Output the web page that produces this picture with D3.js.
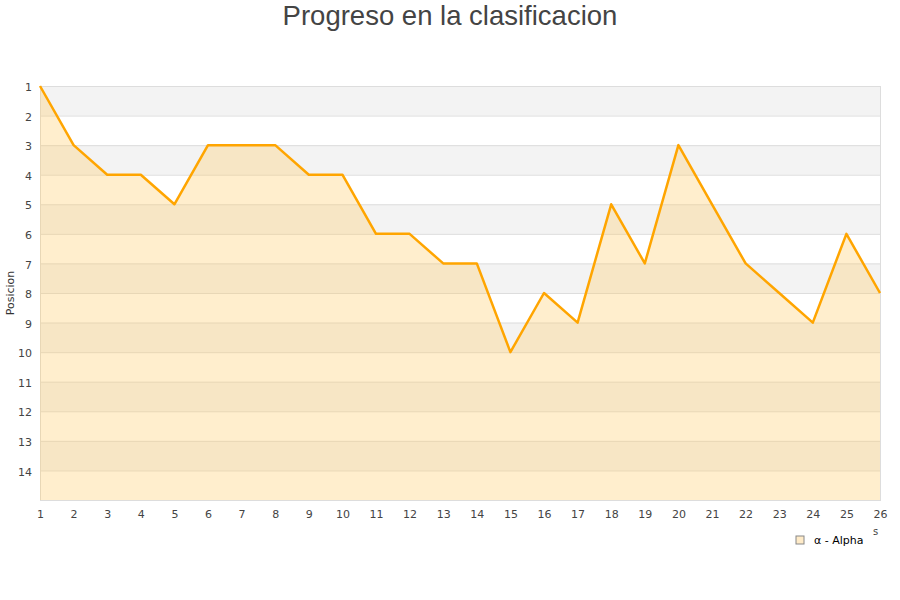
<!DOCTYPE html>
<html>
<head>
<meta charset="utf-8">
<script src="https://cdn.jsdelivr.net/npm/d3@7"></script>
<style>
  body { margin: 0; background: #fff; }
  text { font-family: "DejaVu Sans", sans-serif; }
</style>
</head>
<body>
<script>
const jornadas = d3.range(1, 27);
const posiciones = [1, 3, 4, 4, 5, 3, 3, 3, 4, 4, 6, 6, 7, 7, 10, 8, 9, 5, 7, 3, 5, 7, 8, 9, 6, 8];
const yTicks = d3.range(1, 15);
const seriesName = "α - Alpha";

const width = 900, height = 600;
const plotLeft = 40, plotRight = 880, plotTop = 86, plotBottom = 500;

const svg = d3.select("body")
  .append("svg")
  .attr("width", width)
  .attr("height", height);

const x = d3.scaleLinear().domain([1, 26]).range([plotLeft, plotRight]);
const y = d3.scaleLinear().domain([1, 15]).range([plotTop, plotBottom]);

// alternating bands
svg.append("g")
  .selectAll("rect")
  .data(d3.range(1, 15, 2))
  .join("rect")
  .attr("x", plotLeft)
  .attr("y", d => y(d))
  .attr("width", plotRight - plotLeft)
  .attr("height", d => y(d + 1) - y(d))
  .attr("fill", "#f3f3f3");

// grid lines
svg.append("g")
  .selectAll("line")
  .data(yTicks)
  .join("line")
  .attr("x1", plotLeft)
  .attr("x2", plotRight)
  .attr("y1", d => y(d) + 0.5)
  .attr("y2", d => y(d) + 0.5)
  .attr("stroke", "#dddddd");

// plot frame
svg.append("rect")
  .attr("x", plotLeft + 0.5)
  .attr("y", plotTop + 0.5)
  .attr("width", plotRight - plotLeft)
  .attr("height", plotBottom - plotTop)
  .attr("fill", "none")
  .attr("stroke", "#dddddd");

// area under the line
const area = d3.area()
  .x((d, i) => x(jornadas[i]))
  .y0(y(15))
  .y1(d => y(d));

svg.append("path")
  .datum(posiciones)
  .attr("d", area)
  .attr("fill", "#ffcc66")
  .attr("fill-opacity", 0.33);

const line = d3.line()
  .x((d, i) => x(jornadas[i]))
  .y(d => y(d));

svg.append("path")
  .datum(posiciones)
  .attr("d", line)
  .attr("fill", "none")
  .attr("stroke", "#ffa500")
  .attr("stroke-width", 2.5)
  .attr("stroke-linejoin", "round");

// axes
const yAxis = svg.append("g")
  .attr("transform", `translate(${plotLeft},0)`)
  .call(d3.axisLeft(y).tickValues(yTicks).tickFormat(d3.format("d")).tickSize(0).tickPadding(8));
yAxis.select(".domain").remove();
yAxis.selectAll("text").attr("font-size", 11).attr("fill", "#444").attr("dy", "0.42em");

const xAxis = svg.append("g")
  .attr("transform", `translate(0,${plotBottom})`)
  .call(d3.axisBottom(x).tickValues(jornadas).tickFormat(d3.format("d")).tickSize(0).tickPadding(10));
xAxis.select(".domain").remove();
xAxis.selectAll("text").attr("font-size", 11).attr("fill", "#444");

// titles
svg.append("text")
  .attr("x", width / 2)
  .attr("y", 25)
  .attr("text-anchor", "middle")
  .style("font-family", "'Liberation Sans', Arial, sans-serif")
  .attr("font-size", 27.5)
  .attr("fill", "#444")
  .text("Progreso en la clasificacion");

svg.append("text")
  .attr("transform", `translate(14,${(plotTop + plotBottom) / 2}) rotate(-90)`)
  .attr("text-anchor", "middle")
  .attr("font-size", 11)
  .attr("fill", "#333")
  .text("Posicion");

svg.append("text")
  .attr("x", 873)
  .attr("y", 535)
  .attr("font-size", 10)
  .attr("fill", "#444")
  .text("s");

// legend
const legend = svg.append("g").attr("transform", "translate(796,536)");
legend.append("rect")
  .attr("width", 8)
  .attr("height", 8)
  .attr("fill", "#ffebc8")
  .attr("stroke", "#888");
legend.append("text")
  .attr("x", 18)
  .attr("y", 8)
  .attr("font-size", 11)
  .attr("fill", "#000")
  .text(seriesName);
</script>
</body>
</html>
